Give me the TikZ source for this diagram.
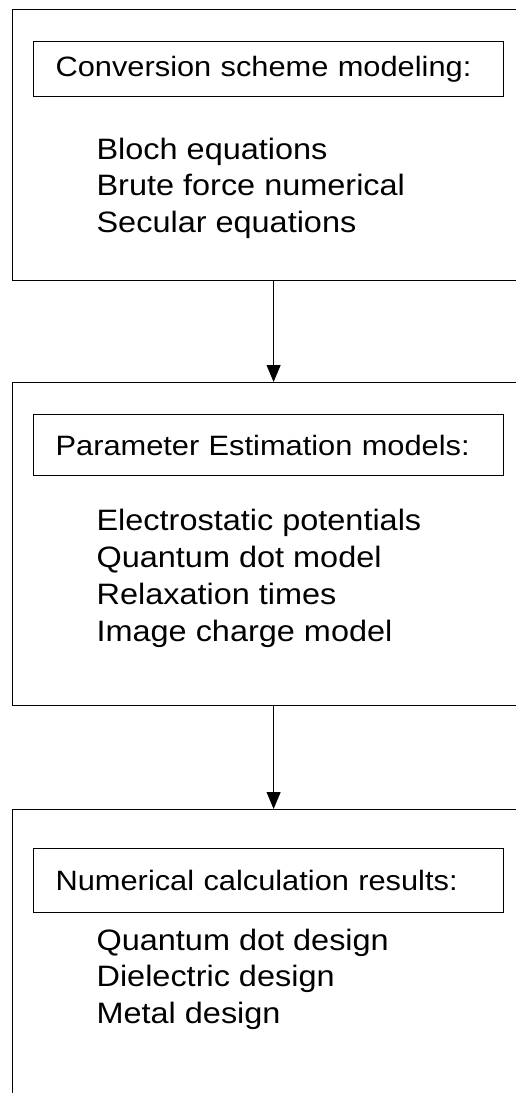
\documentclass[tikz,border=0pt]{standalone}
\usepackage{fontspec}
\setmainfont{Liberation Sans}[FakeStretch=1.1]
\usetikzlibrary{arrows.meta}

\begin{document}
\begin{tikzpicture}[x=1pt, y=-1pt, line width=1.2pt,
  outer/.style={draw, anchor=north west, minimum width=522pt, inner sep=0pt},
  head/.style={draw, anchor=north west, text width=426pt, inner xsep=22pt, inner ysep=0pt, align=left, font=\fontsize{28}{32}\selectfont},
  item/.style={anchor=base west, inner sep=0pt, font=\fontsize{29.5}{34}\selectfont},
  arr/.style={-{Triangle[length=17pt,width=14pt]}}]
\useasboundingbox (0,0) rectangle (515,1093);

% the three stages
\node[outer, minimum height=271pt] (conv) at (12,9) {};
\node[outer, minimum height=323pt] (param) at (12,382) {};
\node[outer, minimum height=320pt] (calc) at (12,809) {};

\node[head, minimum height=55pt] (conv-head) at (33,41) {Conversion scheme modeling:};
\node[head, minimum height=61pt] (param-head) at (33,414) {Parameter Estimation models:};
\node[head, minimum height=64pt] (calc-head) at (33,848) {Numerical calculation results:};

\foreach \t [count=\i] in {Bloch equations, Brute force numerical, Secular equations}{
\node[item] (conv-\i) at (96,{122.5+36.5*\i}) {\t};
}
\foreach \t [count=\i] in {Electrostatic potentials, Quantum dot model, Relaxation times, Image charge model}{
\node[item] (param-\i) at (96,{493+37*\i}) {\t};
}
\foreach \t [count=\i] in {Quantum dot design, Dielectric design, Metal design}{
\node[item] (calc-\i) at (96,{913.5+36.5*\i}) {\t};
}

\draw[arr, line width=1pt] (conv.south) -- (param.north);
\draw[arr, line width=1pt] (param.south) -- (calc.north);
\end{tikzpicture}
\end{document}
